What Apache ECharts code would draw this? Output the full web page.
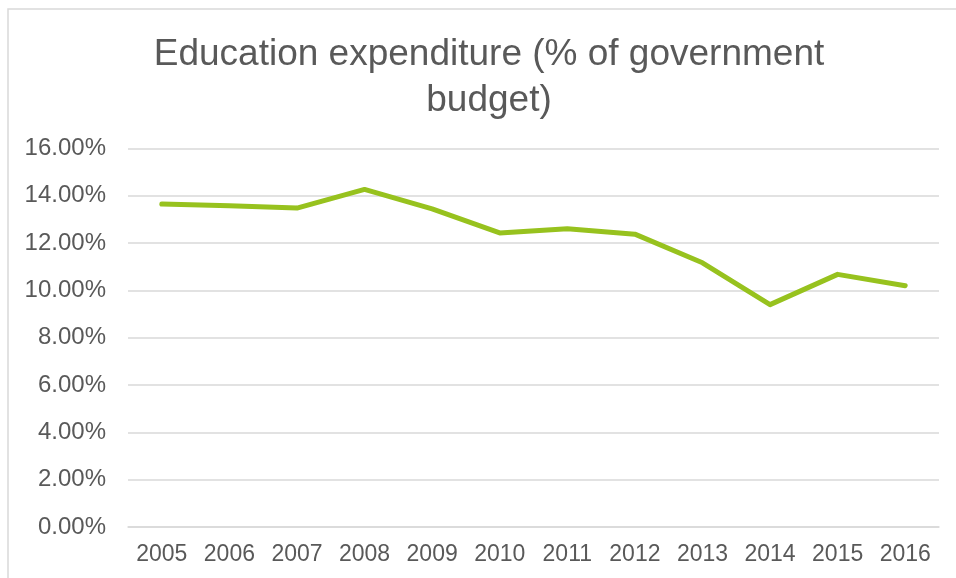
<!DOCTYPE html>
<html>
<head>
<meta charset="utf-8">
<style>
  html, body { margin: 0; padding: 0; background: #ffffff; }
  #chart { width: 956px; height: 578px; }
</style>
<script src="https://cdn.jsdelivr.net/npm/echarts@6/dist/echarts.min.js"></script>
</head>
<body>
<div id="chart"></div>
<script>
// Education expenditure as a share of the government budget, by year
const years = ['2005', '2006', '2007', '2008', '2009', '2010', '2011', '2012', '2013', '2014', '2015', '2016'];
const expenditurePct = [13.65, 13.58, 13.48, 14.27, 13.45, 12.43, 12.61, 12.38, 11.17, 9.40, 10.68, 10.20];
const titleText = 'Education expenditure (% of government\nbudget)';

const textColor = '#595959';
const gridColor = '#d9d9d9';
const fontFamily = '"Liberation Sans", Arial, sans-serif';

const chart = echarts.init(document.getElementById('chart'), null, { renderer: 'canvas' });

chart.setOption({
  backgroundColor: '#ffffff',
  animation: false,
  title: {
    text: titleText,
    left: 489,
    top: 32,
    padding: 0,
    textAlign: 'center',
    textStyle: {
      color: textColor,
      fontFamily: fontFamily,
      fontSize: 37,
      fontWeight: 'normal',
      lineHeight: 46
    }
  },
  graphic: [{
    type: 'rect',
    shape: { x: 8, y: 9, width: 980, height: 620 },
    style: { fill: 'none', stroke: gridColor, lineWidth: 1.5 },
    silent: true,
    z: 0
  }],
  grid: {
    left: 128,
    right: 17,
    top: 148.5,
    bottom: 51,
    containLabel: false
  },
  xAxis: {
    type: 'category',
    data: years,
    boundaryGap: true,
    axisLine: { show: true, lineStyle: { color: gridColor, width: 1.5 } },
    axisTick: { show: false },
    axisLabel: {
      color: textColor,
      fontFamily: fontFamily,
      fontSize: 23,
      margin: 16
    }
  },
  yAxis: {
    type: 'value',
    min: 0,
    max: 16,
    interval: 2,
    axisLine: { show: false },
    axisTick: { show: false },
    splitLine: { lineStyle: { color: gridColor, width: 1.5 } },
    axisLabel: {
      color: textColor,
      fontFamily: fontFamily,
      fontSize: 24,
      margin: 22,
      formatter: v => v.toFixed(2) + '%'
    }
  },
  series: [{
    type: 'line',
    data: expenditurePct,
    symbol: 'none',
    lineStyle: { color: '#97C21E', width: 5, cap: 'round', join: 'round' },
    itemStyle: { color: '#97C21E' }
  }]
});
</script>
</body>
</html>
